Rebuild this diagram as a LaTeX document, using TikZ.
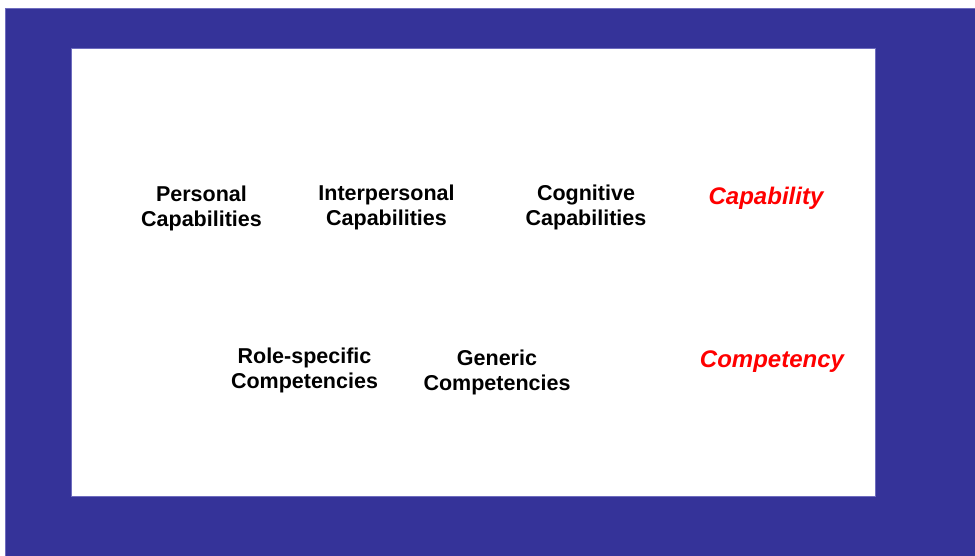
\documentclass[tikz,border=0pt]{standalone}
\usepackage{fontspec}
\setmainfont{Liberation Sans}
\definecolor{slideblue}{RGB}{53,51,153}
\definecolor{slideedge}{RGB}{110,108,190}
\tikzset{
  label/.style={align=center, font=\fontsize{21.5}{25}\selectfont\bfseries, inner sep=0pt},
  term/.style={text=red, font=\fontsize{24}{28}\selectfont\bfseries\itshape, inner sep=0pt}
}

\begin{document}
\begin{tikzpicture}[x=1pt,y=-1pt]
    \useasboundingbox (0,0) rectangle (975,555);
    \fill[white] (0,0) rectangle (975,555);
    \filldraw[fill=slideblue, draw=slideedge, line width=0.8pt] (5,8) rectangle (976,556);
    \filldraw[fill=white, draw=slideedge, line width=0.8pt] (71,48) rectangle (875,496);

    % top row
    \foreach \x/\y/\t/\k in {201.5/208/Personal/0, 386.5/207/Interpersonal/1, 586/207/Cognitive/2} {
        \node[label] (cap\k) at (\x,\y) {\t\\Capabilities};
    }
    \node[term] (capability) at (766,198.5) {Capability};

    % bottom row
    \node[label] (role) at (304.5,370) {Role-specific\\Competencies};
    \node[label] (generic) at (497,372) {Generic\\Competencies};
    \node[term] (competency) at (772,362) {Competency};
\end{tikzpicture}
\end{document}
